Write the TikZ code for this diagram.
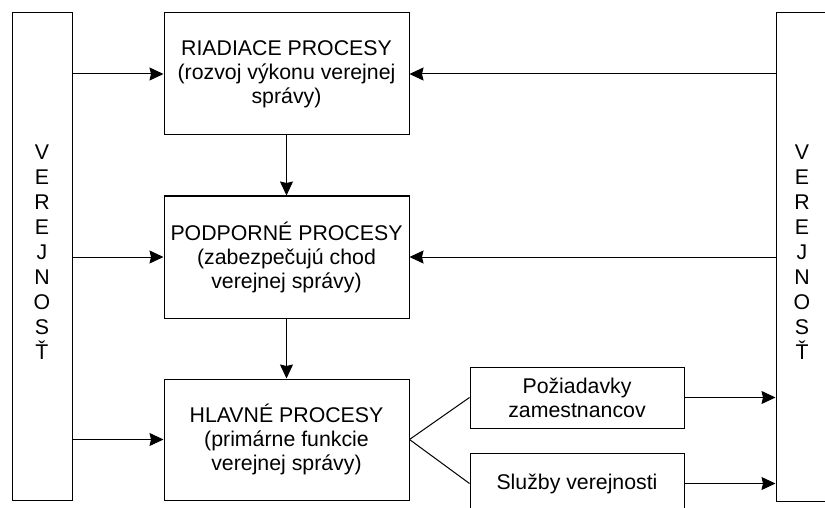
\documentclass[tikz,border=0pt]{standalone}
\usepackage{fontspec}
\setmainfont{Liberation Sans}
\usetikzlibrary{arrows.meta}
\begin{document}
\begin{tikzpicture}[x=1pt,y=-1pt,
  txt/.style={font=\fontsize{21.3}{24}\selectfont},
  outline/.style={draw=black, line width=1pt, rectangle, inner sep=0pt},
  procbox/.style={outline, txt, align=center, minimum width=245pt},
  smallbox/.style={outline, txt, align=center, minimum width=214pt, minimum height=61pt},
  sidebar/.style={outline, minimum height=487pt},
  vletters/.style={inner sep=0pt, align=center, font=\fontsize{21.3}{25}\selectfont},
  arr/.style={line width=1pt, -{Stealth[length=14pt, width=13pt, inset=1.5pt]}},
  link/.style={line width=1pt}
]
\useasboundingbox (0,0) rectangle (825,508);
\clip (0,0) rectangle (825,508);

% side bars (public)
\node[sidebar, minimum width=60pt] (lb) at (42,256.5) {};
\node[vletters] (lbt) at (42,252.5) {V\\E\\R\\E\\J\\N\\O\\S\\Ť};
\node[sidebar, minimum width=52pt, minimum height=488pt] (rb) at (802,257) {};
\node[vletters] (rbt) at (802,252.5) {V\\E\\R\\E\\J\\N\\O\\S\\Ť};

% process boxes
\node[procbox, minimum height=122pt] (r) at (286.5,74)
  {RIADIACE PROCESY\\(rozvoj výkonu verejnej\\správy)};
\node[procbox, minimum height=122pt] (p) at (286.5,257)
  {PODPORNÉ PROCESY\\(zabezpečujú chod\\verejnej správy)};
\node[procbox, minimum height=121pt] (h) at (286.5,439.5)
  {HLAVNÉ PROCESY\\(primárne funkcie\\verejnej správy)};

% outputs
\node[smallbox] (pz) at (577,397.5) {Požiadavky\\zamestnancov};
\node[smallbox] (sl) at (577,483.5) {Služby verejnosti};

% connectors
\draw[arr] (lb.east |- r.west) -- (r.west);
\draw[arr] (rb.west |- r.east) -- (r.east);
\draw[arr] (lb.east |- p.west) -- (p.west);
\draw[arr] (rb.west |- p.east) -- (p.east);
\draw[arr] (lb.east |- h.west) -- (h.west);
\draw[arr] (r.south) -- (p.north);
\draw[arr] (p.south) -- (h.north);
\draw[link] (h.east) -- (pz.west);
\draw[link] (h.east) -- (sl.west);
\draw[arr] (pz.east) -- (rb.west |- pz.east);
\draw[arr] (sl.east) -- (rb.west |- sl.east);
\end{tikzpicture}
\end{document}
